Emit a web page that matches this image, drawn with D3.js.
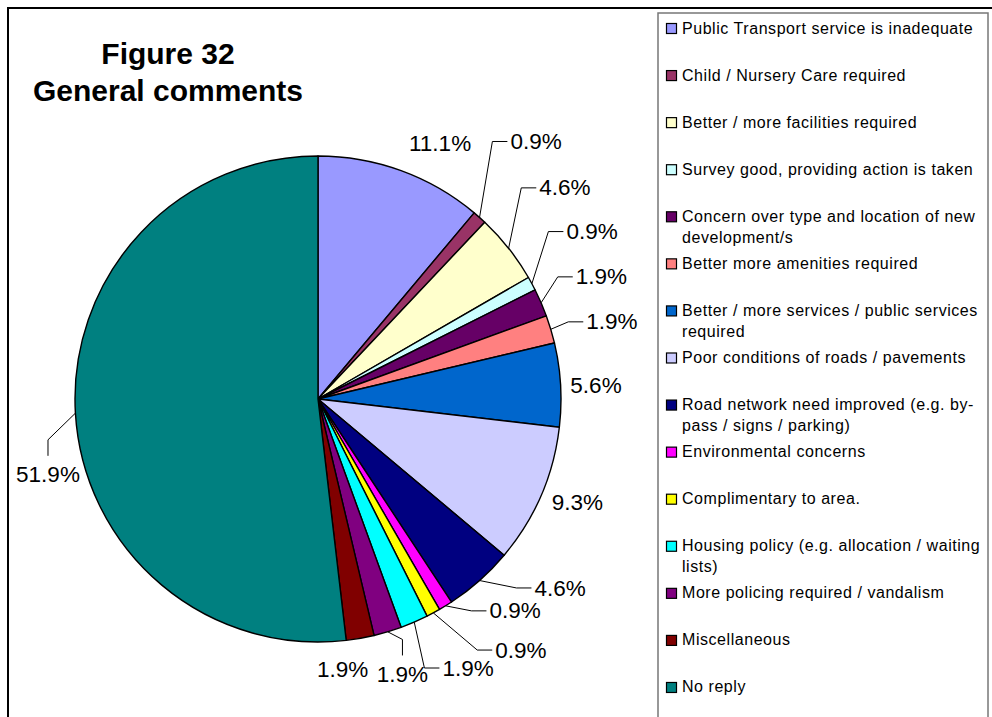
<!DOCTYPE html>
<html>
<head>
<meta charset="utf-8">
<script src="https://cdn.jsdelivr.net/npm/d3@7"></script>
<style>
  html, body { margin: 0; padding: 0; background: #fff; }
  svg { display: block; }
  text { font-family: "Liberation Sans", Arial, sans-serif; fill: #000; }
</style>
</head>
<body>
<svg id="chart" width="992" height="717"></svg>
<script>
// ---- data ----
const titleLines = ["Figure 32", "General comments"];
const categories = [
  "Public Transport service is inadequate",
  "Child / Nursery Care required",
  "Better / more facilities required",
  "Survey good, providing action is taken",
  "Concern over type and location of new\ndevelopment/s",
  "Better more amenities required",
  "Better / more services / public services\nrequired",
  "Poor conditions of roads / pavements",
  "Road network need improved (e.g. by-\npass / signs / parking)",
  "Environmental concerns",
  "Complimentary to area.",
  "Housing policy (e.g. allocation / waiting\nlists)",
  "More policing required / vandalism",
  "Miscellaneous",
  "No reply"
];
const counts = [12, 1, 5, 1, 2, 2, 6, 10, 5, 1, 1, 2, 2, 2, 56];
const colors = [
  "#9999FF", "#993366", "#FFFFCC", "#CCFFFF", "#660066",
  "#FF8080", "#0066CC", "#CCCCFF", "#000080", "#FF00FF",
  "#FFFF00", "#00FFFF", "#800080", "#800000", "#008080"
];

// ---- layout (label placement, polar: degrees clockwise from top, px from centre) ----
const labelAngle  = [25.5, 40.2, 49.4, 58.5, 66.6, 75.2, 87.0, 111.6, 127.9, 137.0, 141.0, 150.8, 162.9, 174.8, 254.5];
const labelRadius = [283.6, 337.8, 325.2, 321.4, 308.8, 304.0, 278.4, 279.0, 306.8, 289.0, 322.4, 307.6, 287.2, 271.1, 280.2];
const leaderType  = ["none", "h", "h", "h", "h", "h", "none", "none", "h", "h", "h", "h", "v", "none", "v"];

const W = 992, H = 717;
const cx = 318, cy = 399, R = 243;
const labelFont = 22.5;

const svg = d3.select("#chart");

// outer frame
svg.append("path")
  .attr("d", `M8,${H + 5} L8,8 L${W + 5},8`)
  .attr("fill", "none").attr("stroke", "#000").attr("stroke-width", 2);

// title
const title = svg.append("text")
  .attr("text-anchor", "middle")
  .attr("font-size", 30).attr("font-weight", "bold");
titleLines.forEach((t, i) => {
  title.append("tspan").attr("x", 168).attr("y", 64 + i * 37).text(t);
});

// pie
const total = d3.sum(counts);
const pct = d3.format(".1%");
const pie = d3.pie().sort(null).value(d => d);
const arcs = pie(counts);
const arc = d3.arc().innerRadius(0).outerRadius(R);

const g = svg.append("g").attr("transform", `translate(${cx},${cy})`);
g.selectAll("path.slice")
  .data(arcs)
  .join("path")
  .attr("class", "slice")
  .attr("d", arc)
  .attr("fill", (d, i) => colors[i])
  .attr("stroke", "#000")
  .attr("stroke-width", 1.4)
  .attr("stroke-linejoin", "round");

const polar = (deg, r) => {
  const a = deg * Math.PI / 180;
  return [r * Math.sin(a), -r * Math.cos(a)];
};

// labels
const capH = labelFont * 0.716;
arcs.forEach((d, i) => {
  const [lx, ly] = polar(labelAngle[i], labelRadius[i]);
  const t = g.append("text")
    .attr("x", lx).attr("y", ly + capH / 2)
    .attr("text-anchor", "middle")
    .attr("font-size", labelFont)
    .text(pct(counts[i] / total));
  const w = t.node().getComputedTextLength();
  const mid = (d.startAngle + d.endAngle) / 2;
  const s = [R * Math.sin(mid), -R * Math.cos(mid)];
  let pts = null;
  if (leaderType[i] === "h") {
    const left = lx - w / 2;
    pts = [s, [left - 18, ly + 0.5], [left - 3, ly + 0.5]];
  } else if (leaderType[i] === "v") {
    const top = ly - capH / 2;
    pts = [s, [lx, top - 26], [lx, top - 10]];
  }
  if (pts) {
    g.append("path")
      .attr("d", d3.line()(pts))
      .attr("fill", "none")
      .attr("stroke", "#000")
      .attr("stroke-width", 1);
  }
});

// legend
const lgX = 658, lgY = 13, lgW = 330;
svg.append("rect")
  .attr("x", lgX).attr("y", lgY)
  .attr("width", lgW).attr("height", H)
  .attr("fill", "#fff").attr("stroke", "#777").attr("stroke-width", 1.5);

const itemStep = 47.07;
const legend = svg.append("g");
categories.forEach((c, i) => {
  const base = 33.5 + i * itemStep;
  legend.append("rect")
    .attr("x", 666.5).attr("y", base - 10)
    .attr("width", 10).attr("height", 10)
    .attr("fill", colors[i]).attr("stroke", "#000").attr("stroke-width", 1.2);
  const t = legend.append("text")
    .attr("font-size", 16)
    .attr("letter-spacing", 0.55);
  c.split("\n").forEach((line, j) => {
    t.append("tspan").attr("x", 682).attr("y", base + j * 21).text(line);
  });
});
</script>
</body>
</html>
